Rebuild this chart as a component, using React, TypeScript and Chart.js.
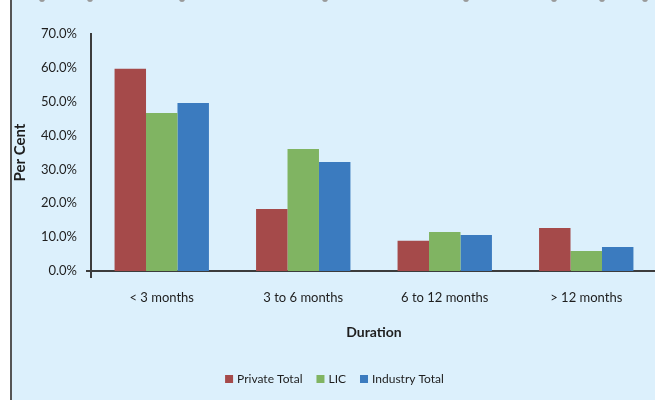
import React, { useEffect, useRef } from "react";
import { Chart, registerables } from "chart.js";

Chart.register(...registerables);

const categories = ["< 3 months", "3 to 6 months", "6 to 12 months", "> 12 months"];
const privateTotal = [59.7, 18.3, 8.9, 12.7];
const lic = [46.7, 36.0, 11.5, 5.9];
const industryTotal = [49.6, 32.2, 10.6, 7.1];
const seriesNames = ["Private Total", "LIC", "Industry Total"];
const seriesColors = ["#A54A4A", "#80B462", "#3B7BBF"];
const yMax = 70;
const yStep = 10;

const handleXs = [42, 90, 182, 325, 466, 554, 602, 645];

const FONT = "Lato, 'Liberation Sans', sans-serif";
const TEXT = "#1e1e1e";
const AXIS = "#3c3c3c";

const axisStubs = {
  id: "axisStubs",
  afterDraw(chart: any) {
    const { ctx, chartArea } = chart;
    ctx.save();
    ctx.strokeStyle = AXIS;
    ctx.lineWidth = 2;
    ctx.beginPath();
    ctx.moveTo(chartArea.left - 5, chartArea.bottom);
    ctx.lineTo(chartArea.left, chartArea.bottom);
    ctx.moveTo(chartArea.left, chartArea.bottom);
    ctx.lineTo(chartArea.left, chartArea.bottom + 7);
    ctx.stroke();
    ctx.restore();
  },
};

const bottomLegend = {
  id: "bottomLegend",
  afterDraw(chart: any) {
    const { ctx } = chart;
    const ds = chart.data.datasets;
    ctx.save();
    ctx.font = `12px ${FONT}`;
    ctx.textBaseline = "middle";
    const box = 8;
    const gap = 4;
    const spacing = 14;
    const widths = ds.map((d: any) => box + gap + ctx.measureText(d.label).width);
    const total = widths.reduce((a: number, b: number) => a + b, 0) + spacing * (ds.length - 1);
    let x = chart.width / 2 + 2 - total / 2;
    const y = 379;
    ds.forEach((d: any, i: number) => {
      ctx.fillStyle = d.backgroundColor;
      ctx.fillRect(x, y - box / 2, box, box);
      ctx.fillStyle = TEXT;
      ctx.fillText(d.label, x + box + gap, y + 0.5);
      x += widths[i] + spacing;
    });
    ctx.restore();
  },
};

export default function App() {
  const ref = useRef<HTMLCanvasElement | null>(null);
  useEffect(() => {
    if (!ref.current) return;
    const chart = new Chart(ref.current, {
      type: "bar",
      data: {
        labels: categories,
        datasets: [
          { label: seriesNames[0], data: privateTotal, backgroundColor: seriesColors[0] },
          { label: seriesNames[1], data: lic, backgroundColor: seriesColors[1] },
          { label: seriesNames[2], data: industryTotal, backgroundColor: seriesColors[2] },
        ],
      },
      options: {
        responsive: false,
        animation: false,
        layout: { padding: { top: 34, right: 8, left: 0, bottom: 31 } },
        datasets: { bar: { categoryPercentage: 0.667, barPercentage: 1 } },
        plugins: {
          tooltip: { enabled: false },
          legend: { display: false },
        },
        scales: {
          x: {
            grid: { display: false, drawTicks: false },
            border: { color: AXIS, width: 2 },
            ticks: { color: TEXT, font: { family: FONT, size: 13 }, padding: 19 },
            title: {
              display: true,
              text: "Duration",
              color: TEXT,
              font: { family: FONT, size: 14, weight: "bold" },
              padding: { top: 0, bottom: 28 },
            },
            afterFit(scale: any) {
              scale.height = 98;
            },
          },
          y: {
            min: 0,
            max: yMax,
            grid: { display: false, drawTicks: false },
            border: { color: AXIS, width: 2 },
            ticks: {
              stepSize: yStep,
              color: TEXT,
              font: { family: FONT, size: 13 },
              padding: 14,
              callback: (v: any) => Number(v).toFixed(1) + "%",
            },
            title: {
              display: true,
              text: "Per Cent",
              color: TEXT,
              font: { family: FONT, size: 15, weight: "bold" },
              padding: { top: 11, bottom: 0 },
            },
            afterFit(scale: any) {
              scale.width = 91;
            },
          },
        },
      },
      plugins: [axisStubs, bottomLegend],
    });
    return () => chart.destroy();
  }, []);

  return (
    <div
      style={{
        position: "fixed",
        left: 0,
        top: 0,
        width: 655,
        height: 400,
        overflow: "hidden",
        background: "#ffffff",
      }}
    >
      <div
        style={{
          position: "absolute",
          left: 10,
          top: 0,
          width: 645,
          height: 400,
          background: "#DCF0FC",
          borderLeft: "2px solid #555",
          boxSizing: "border-box",
        }}
      />
      {handleXs.map((x, i) => (
        <div
          key={i}
          style={{
            position: "absolute",
            left: x - 3,
            top: -4,
            width: 6,
            height: 6,
            borderRadius: 3,
            background: "#9a9a9a",
          }}
        />
      ))}
      <canvas
        ref={ref}
        width={665}
        height={400}
        style={{ position: "absolute", left: 0, top: 0, width: 665, height: 400 }}
      />
    </div>
  );
}
